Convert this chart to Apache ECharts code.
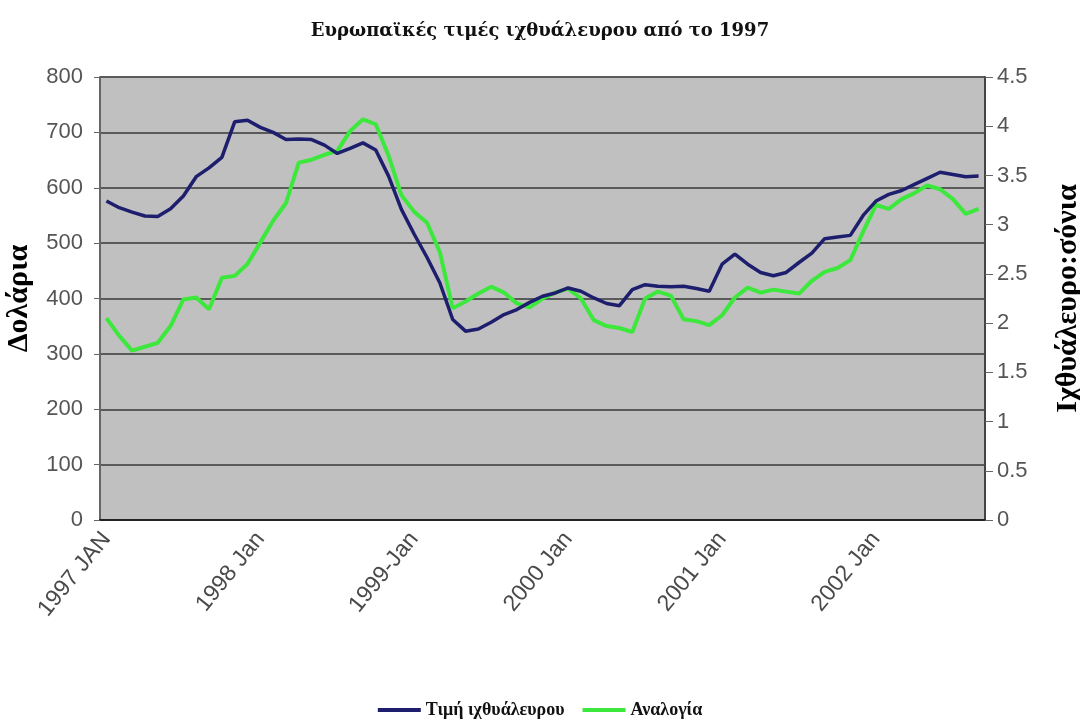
<!DOCTYPE html>
<html>
<head>
<meta charset="utf-8">
<title>Ευρωπαϊκές τιμές ιχθυάλευρου</title>
<script src="https://cdn.jsdelivr.net/npm/echarts@6/dist/echarts.min.js"></script>
<style>
  html, body { margin: 0; padding: 0; background: #fff; }
  #chart { width: 1080px; height: 724px; }
</style>
</head>
<body>
<div id="chart"></div>
<script>
// μήνες 1997 Ιαν - 2002 Σεπ (69 σημεία)
const months = []
for (let y = 1997; y <= 2002; y++) {
  for (let m = 1; m <= 12; m++) {
    if (y === 2002 && m > 9) break
    months.push(y + '-' + (m < 10 ? '0' + m : m))
  }
}

// ετικέτες άξονα x (μία ανά έτος)
const yearLabels = ['1997 JAN', '1998 Jan', '1999-Jan', '2000 Jan', '2001 Jan', '2002 Jan']

// τιμή ιχθυάλευρου (δολάρια)
const fishmealPrice = [
  576, 564, 556, 549, 548, 562, 585, 620, 636, 655, 719, 722,
  709, 700, 687, 688, 687, 677, 662, 671, 681, 668, 621, 561,
  516, 474, 428, 362, 341, 345, 357, 371, 380, 393, 404, 410,
  419, 413, 401, 391, 387, 416, 425, 422, 421, 422, 418, 413,
  462, 480, 462, 447, 441, 447, 465, 482, 508, 511, 514, 550,
  576, 588, 595, 606, 617, 628, 624, 620, 621
]

// αναλογία ιχθυάλευρο:σόγια
const ratio = [
  2.05, 1.87, 1.72, 1.76, 1.80, 1.97, 2.24, 2.26, 2.14, 2.46, 2.48, 2.60,
  2.82, 3.04, 3.22, 3.63, 3.66, 3.71, 3.75, 3.95, 4.07, 4.02, 3.70, 3.30,
  3.13, 3.02, 2.72, 2.15, 2.22, 2.30, 2.37, 2.31, 2.20, 2.16, 2.25, 2.31,
  2.35, 2.25, 2.03, 1.97, 1.95, 1.91, 2.25, 2.32, 2.28, 2.04, 2.02, 1.98,
  2.08, 2.26, 2.36, 2.31, 2.34, 2.32, 2.30, 2.43, 2.52, 2.56, 2.64, 2.93,
  3.20, 3.16, 3.26, 3.32, 3.40, 3.36, 3.26, 3.11, 3.16
]

const serif = '"Liberation Serif", "DejaVu Serif", serif'
const sans = '"Liberation Sans", Arial, sans-serif'

const option = {
  animation: false,
  backgroundColor: '#ffffff',
  title: {
    text: 'Ευρωπαϊκές τιμές ιχθυάλευρου από το 1997',
    left: 'center',
    top: 17,
    textStyle: {
      fontFamily: '"DejaVu Serif", serif',
      fontWeight: 'bold',
      fontSize: 18,
      color: '#111'
    }
  },
  legend: {
    bottom: 0,
    left: 'center',
    itemWidth: 43,
    itemHeight: 4,
    itemGap: 18,
    icon: 'rect',
    textStyle: {
      fontFamily: serif,
      fontWeight: 'bold',
      fontSize: 18,
      color: '#111'
    },
    data: ['Τιμή ιχθυάλευρου', 'Αναλογία']
  },
  grid: {
    left: 100,
    right: 95,
    top: 77,
    bottom: 204,
    containLabel: false,
    outerBoundsMode: 'none',
    show: true,
    backgroundColor: '#c0c0c0',
    borderColor: '#8a8a8a',
    borderWidth: 1
  },
  xAxis: [
    {
      type: 'category',
      data: months,
      boundaryGap: true,
      axisLine: { lineStyle: { color: '#222', width: 2 } },
      axisTick: { interval: 0, length: 7, lineStyle: { color: '#444', width: 1.5 } },
      axisLabel: {
        interval: (idx) => idx % 12 === 0,
        formatter: (v, idx) => yearLabels[idx / 12] || '',
        rotate: 51,
        margin: 15,
        fontFamily: sans,
        fontSize: 23,
        color: '#4a4a4a'
      }
    },
    {
      type: 'category',
      data: months,
      boundaryGap: true,
      position: 'bottom',
      axisLine: { show: false },
      axisTick: { interval: 0, inside: true, length: 7, lineStyle: { color: '#444', width: 1.5 } },
      axisLabel: { show: false }
    }
  ],
  yAxis: [
    {
      type: 'value',
      min: 0,
      max: 800,
      interval: 100,
      name: 'Δολάρια',
      nameLocation: 'middle',
      nameGap: 66,
      nameRotate: 90,
      nameTextStyle: {
        fontFamily: serif,
        fontWeight: 'bold',
        fontSize: 30,
        color: '#000'
      },
      axisLine: { show: true, lineStyle: { color: '#666', width: 2 } },
      axisTick: { show: true, length: 6, lineStyle: { color: '#666' } },
      axisLabel: { fontFamily: sans, fontSize: 22, color: '#555', margin: 17 },
      splitLine: { lineStyle: { color: '#5a5a5a', width: 2 } }
    },
    {
      type: 'value',
      min: 0,
      max: 4.5,
      interval: 0.5,
      position: 'right',
      name: 'Ιχθυάλευρο:σόνια',
      nameLocation: 'middle',
      nameGap: 68,
      nameRotate: 90,
      nameTextStyle: {
        fontFamily: serif,
        fontWeight: 'bold',
        fontSize: 30,
        color: '#000'
      },
      axisLine: { show: true, lineStyle: { color: '#444', width: 2 } },
      axisTick: { show: true, length: 8, lineStyle: { color: '#666' } },
      axisLabel: { fontFamily: sans, fontSize: 22, color: '#555', margin: 12 },
      splitLine: { show: false }
    }
  ],
  series: [
    {
      name: 'Τιμή ιχθυάλευρου',
      type: 'line',
      data: fishmealPrice,
      yAxisIndex: 0,
      z: 4,
      symbol: 'none',
      color: '#1e1e6e',
      lineStyle: { width: 3.5, color: '#1e1e6e' }
    },
    {
      name: 'Αναλογία',
      type: 'line',
      data: ratio,
      yAxisIndex: 1,
      z: 3,
      symbol: 'none',
      color: '#3ce83c',
      lineStyle: { width: 4, color: '#3ce83c' }
    }
  ]
}

const chart = echarts.init(document.getElementById('chart'))
chart.setOption(option)
</script>
</body>
</html>
